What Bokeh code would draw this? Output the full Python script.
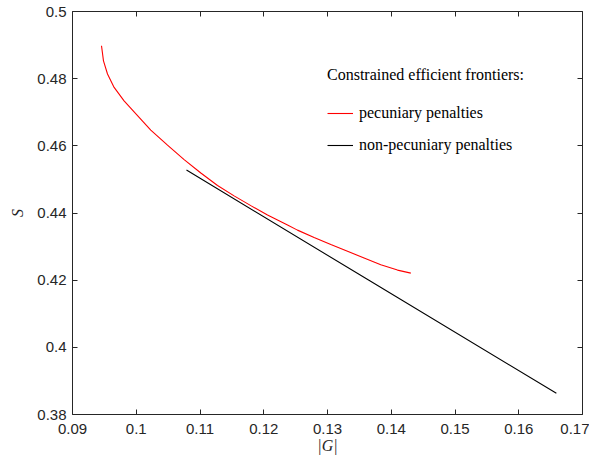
from bokeh.plotting import figure
from bokeh.models import (FixedTicker, CustomJSTickFormatter, LinearAxis, Legend, LegendItem, Range1d)
from bokeh.embed import file_html
from bokeh.resources import INLINE

# ---- data ----
pecuniary_G = [0.09455, 0.09486, 0.09549, 0.09653, 0.09809, 0.10020, 0.10228, 0.10490,
               0.10751, 0.11013, 0.11275, 0.11535, 0.11797, 0.12059, 0.12373, 0.12529,
               0.12790, 0.13052, 0.13314, 0.13574, 0.13836, 0.14098, 0.14307]
pecuniary_S = [0.4898, 0.4853, 0.4814, 0.4774, 0.4734, 0.4690, 0.4647, 0.4602,
               0.4559, 0.4519, 0.4482, 0.4451, 0.4422, 0.4394, 0.4364, 0.4349,
               0.4327, 0.4306, 0.4286, 0.4266, 0.4246, 0.4230, 0.4221]
nonpecuniary_G = [0.10788, 0.13637, 0.1659]
nonpecuniary_S = [0.4528, 0.4201, 0.3863]

x_ticks = [0.09, 0.10, 0.11, 0.12, 0.13, 0.14, 0.15, 0.16, 0.17]
x_labels = ["0.09", "0.1", "0.11", "0.12", "0.13", "0.14", "0.15", "0.16", "0.17"]
y_ticks = [0.38, 0.40, 0.42, 0.44, 0.46, 0.48, 0.50]
y_labels = ["0.38", "0.4", "0.42", "0.44", "0.46", "0.48", "0.5"]

legend_title = "Constrained efficient frontiers:"
label_red = "pecuniary penalties"
label_black = "non-pecuniary penalties"

AX = "#262626"
SANS = "Liberation Sans"
SERIF = "Liberation Serif"

p = figure(width=589, height=456, output_backend="svg", toolbar_location=None,
           x_range=Range1d(0.09, 0.17), y_range=Range1d(0.38, 0.50),
           min_border_left=72, min_border_right=7, min_border_top=11, min_border_bottom=42,
           x_axis_label="|G|", y_axis_label="S")
p.grid.visible = False
p.outline_line_color = None
p.background_fill_color = "white"
p.border_fill_color = "white"

fmt_code = """
let best = 0; let bd = 1e9;
for (let i = 0; i < tv.length; i++) { const d = Math.abs(tv[i] - tick); if (d < bd) { bd = d; best = i; } }
return tl[best];
"""
xfmt = CustomJSTickFormatter(args=dict(tv=x_ticks, tl=x_labels), code=fmt_code)
yfmt = CustomJSTickFormatter(args=dict(tv=y_ticks, tl=y_labels), code=fmt_code)

def style(ax, ticks):
    ax.ticker = FixedTicker(ticks=ticks)
    ax.axis_line_color = AX
    ax.axis_line_width = 1
    ax.major_tick_line_color = AX
    ax.major_tick_in = 5
    ax.major_tick_out = 0
    ax.minor_tick_line_color = None
    ax.major_label_text_color = AX
    ax.major_label_text_font = SANS
    ax.major_label_text_font_size = "15px"
    ax.axis_label_text_font = SERIF
    ax.axis_label_text_font_style = "italic"
    ax.axis_label_text_font_size = "16px"
    ax.axis_label_text_color = AX

xa = p.xaxis[0]
style(xa, x_ticks)
xa.formatter = xfmt
xa.major_label_standoff = 9
xa.axis_label_standoff = 0

ya = p.yaxis[0]
style(ya, y_ticks)
ya.formatter = yfmt
ya.major_label_standoff = 6
ya.axis_label_standoff = 8

top = LinearAxis()
style(top, x_ticks)
top.major_label_text_font_size = "0px"
top.major_label_standoff = 0
top.formatter = CustomJSTickFormatter(code="return '';")
p.add_layout(top, "above")
right = LinearAxis()
style(right, y_ticks)
right.major_label_text_font_size = "0px"
right.major_label_standoff = 0
right.formatter = CustomJSTickFormatter(code="return '';")
p.add_layout(right, "right")

r1 = p.line(pecuniary_G, pecuniary_S, line_color="#ff0000", line_width=1.1)
r2 = p.line(nonpecuniary_G, nonpecuniary_S, line_color="black", line_width=1.1)

leg = Legend(items=[LegendItem(label=label_red, renderers=[r1]),
                    LegendItem(label=label_black, renderers=[r2])],
             location=(255, 259), title=legend_title,
             title_text_font=SERIF, title_text_font_size="16px", title_text_font_style="normal",
             title_text_color="black", title_standoff=19,
             label_text_font=SERIF, label_text_font_size="16px", label_text_color="black",
             glyph_width=26, glyph_height=20, label_height=20, spacing=12, label_standoff=6,
             padding=4, margin=0, border_line_color=None, background_fill_alpha=0)
p.add_layout(leg, "center")

open("out.html", "w").write(file_html(p, INLINE))
